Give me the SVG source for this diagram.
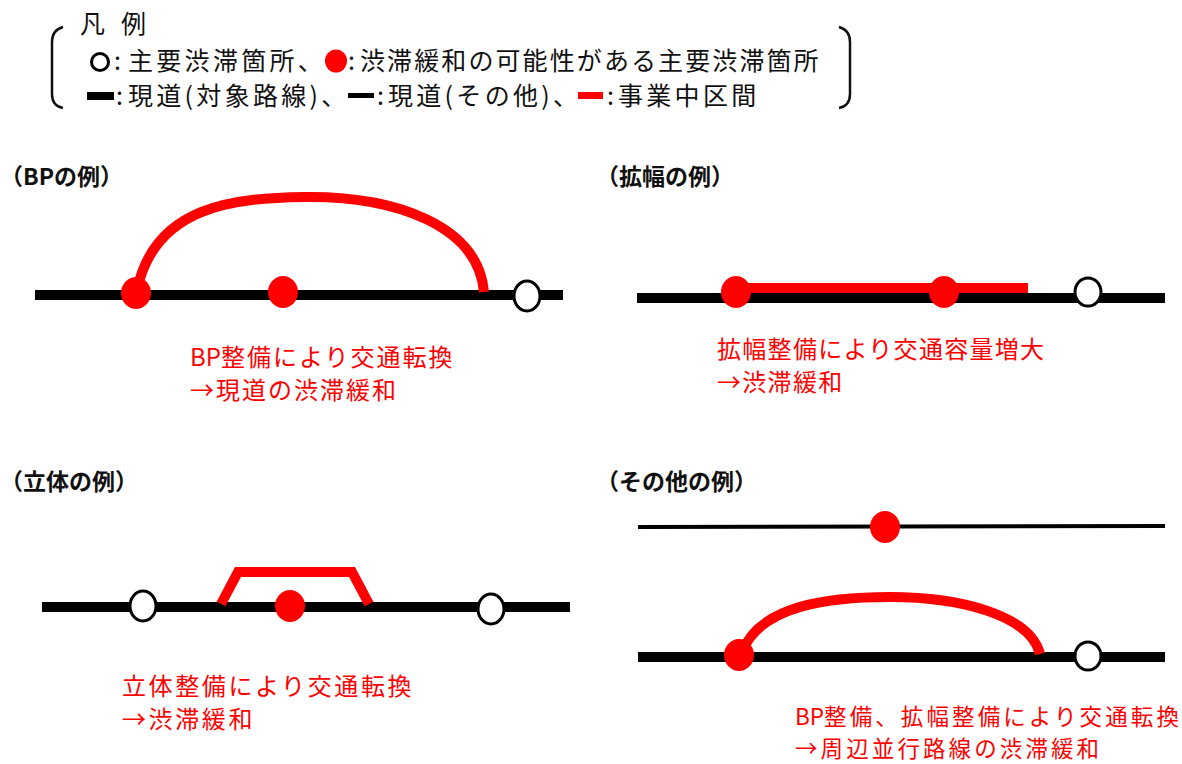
<svg xmlns="http://www.w3.org/2000/svg" width="1182" height="764" viewBox="0 0 1182 764">
<style>
  text { font-family: "Noto Sans CJK JP", "Noto Sans", sans-serif; }
  .lg { font-size: 25px; letter-spacing: 3.3px; fill: #111; }
  .lgr { font-size: 25px; letter-spacing: 2.1px; fill: #111; }
  .ttl { font-size: 23px; font-weight: bold; fill: #111; }
  .note { font-size: 24px; fill: #FF0000; }
  .note2 { font-size: 22.5px; fill: #FF0000; }
  .tight { letter-spacing: 0px; }
  .main { stroke: #000; stroke-width: 10; fill: none; }
  .other { stroke: #000; stroke-width: 4; fill: none; }
  .proj { stroke: #FF0000; stroke-width: 10; fill: none; stroke-linejoin: miter; }
  .hollow { fill: #fff; stroke: #000; stroke-width: 3; }
  .red { fill: #FF0000; }
  .brk { stroke: #111; stroke-width: 2.5; fill: none; }
</style>
<rect width="1182" height="764" fill="#fff"/>

<g id="legend">
  <path class="brk" d="M63,27 Q52,30 52,42 L52,94 Q52,106 63,108"/>
  <path class="brk" d="M839,27 Q850,30 850,42 L850,94 Q850,106 839,108"/>
  <text class="lg" x="80" y="33">凡</text>
  <text class="lg" x="121" y="33">例</text>
  <ellipse class="hollow" cx="100" cy="62" rx="8.5" ry="8.5"/>
  <text class="lg" x="114" y="70">:</text>
  <text class="lg" x="128" y="70">主要渋滞箇所、</text>
  <ellipse class="red" cx="336" cy="61" rx="11" ry="11.5"/>
  <text class="lgr" x="348" y="70">:</text>
  <text class="lgr" x="360" y="70">渋滞緩和の可能性がある主要渋滞箇所</text>
  <rect x="87" y="92" width="27" height="8" fill="#000"/>
  <text class="lg" x="116" y="105">:</text>
  <text class="lg" x="128" y="105">現道(対象路線)、</text>
  <rect x="348" y="93" width="26" height="5" fill="#000"/>
  <text class="lg" x="377" y="105">:</text>
  <text class="lg" x="388" y="105">現道(その他)、</text>
  <rect x="578" y="92" width="25" height="7" fill="#FF0000"/>
  <text class="lg" x="607" y="105">:</text>
  <text class="lg" x="618" y="105">事業中区間</text>
</g>

<g id="connectors">
  <line class="main" x1="35" y1="295" x2="563" y2="295"/>
  <path class="proj" d="M137,290 C 155,205 235,198 305,197 C 395,196 478,225 484,292"/>
  <line class="main" x1="637" y1="298" x2="1165" y2="298"/>
  <line class="proj" x1="736" y1="288" x2="1028" y2="288"/>
  <line class="main" x1="42" y1="607" x2="570" y2="607"/>
  <path class="proj" d="M221,604 L238,572 L352,572 L369,604"/>
  <line class="other" x1="638" y1="527" x2="1165" y2="526"/>
  <line class="main" x1="638" y1="657" x2="1165" y2="657"/>
  <path class="proj" d="M742,652 C 760,605 830,597 890,597 C 960,597 1030,615 1040,654"/>
</g>

<g id="bp-example">
  <text class="ttl" x="0" y="185">（BPの例）</text>
  <g id="bp-a"><ellipse class="red" cx="136" cy="293" rx="15" ry="16"/></g>
  <g id="bp-b"><ellipse class="red" cx="283" cy="292" rx="15" ry="16"/></g>
  <g id="bp-c"><ellipse class="hollow" cx="527" cy="296" rx="13" ry="15"/></g>
  <text class="note" x="190" y="366"><tspan class="tight">BP</tspan><tspan style="letter-spacing:2px">整備により交通転換</tspan></text>
  <text class="note" x="190" y="399" style="letter-spacing:2px">→現道の渋滞緩和</text>
</g>

<g id="widen-example">
  <text class="ttl" x="596" y="185">（拡幅の例）</text>
  <g id="wd-a"><ellipse class="red" cx="736" cy="292" rx="15" ry="16"/></g>
  <g id="wd-b"><ellipse class="red" cx="944" cy="292" rx="15" ry="16"/></g>
  <g id="wd-c"><ellipse class="hollow" cx="1088" cy="292" rx="13" ry="14"/></g>
  <text class="note" x="717" y="358" style="letter-spacing:1.3px">拡幅整備により交通容量増大</text>
  <text class="note" x="717" y="391" style="letter-spacing:1.3px">→渋滞緩和</text>
</g>

<g id="grade-example">
  <text class="ttl" x="0" y="490">（立体の例）</text>
  <g id="gs-a"><ellipse class="hollow" cx="143" cy="606" rx="13" ry="15"/></g>
  <g id="gs-b"><ellipse class="red" cx="290" cy="606" rx="15" ry="16"/></g>
  <g id="gs-c"><ellipse class="hollow" cx="491" cy="609" rx="13" ry="15"/></g>
  <text class="note" x="122" y="695" style="letter-spacing:2.6px">立体整備により交通転換</text>
  <text class="note" x="122" y="728" style="letter-spacing:2.6px">→渋滞緩和</text>
</g>

<g id="other-example">
  <text class="ttl" x="596" y="490">（その他の例）</text>
  <g id="ot-a"><ellipse class="red" cx="885" cy="527" rx="15" ry="16"/></g>
  <g id="ot-b"><ellipse class="red" cx="739" cy="655" rx="15" ry="16"/></g>
  <g id="ot-c"><ellipse class="hollow" cx="1088" cy="656" rx="13" ry="14"/></g>
  <text class="note2" x="795" y="725"><tspan class="tight">BP</tspan><tspan style="letter-spacing:3.1px">整備、拡幅整備により交通転換</tspan></text>
  <text class="note2" x="795" y="757" style="letter-spacing:3.1px">→周辺並行路線の渋滞緩和</text>
</g>
</svg>
